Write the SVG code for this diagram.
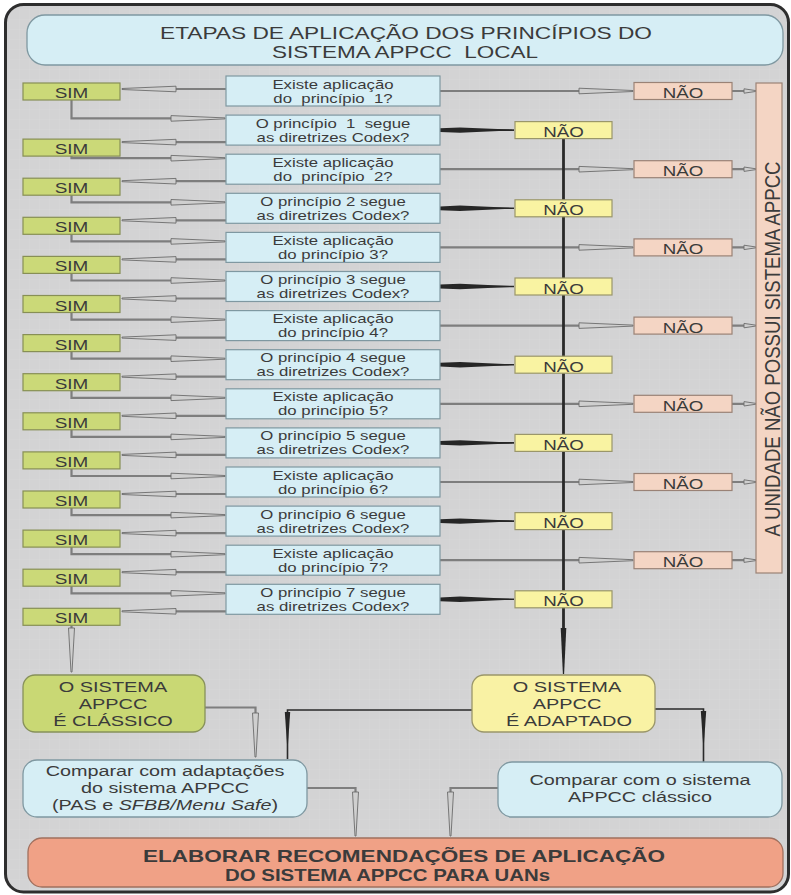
<svg xmlns="http://www.w3.org/2000/svg" width="791" height="895" viewBox="0 0 791 895">
<style>
.frame{fill:url(#grid);stroke:#2e2e2e;stroke-width:3}
.q{fill:#d6eef5;stroke:#7f98a1;stroke-width:1.2}
.sim{fill:#cbd978;stroke:#878f55;stroke-width:1.2}
.np{fill:#f4d5c4;stroke:#9a8276;stroke-width:1.2}
.ny{fill:#f9f3a2;stroke:#9a966a;stroke-width:1.2}
.tall{fill:#f4d5c4;stroke:#9a8276;stroke-width:1.2}
.cls{fill:#c9d874;stroke:#87915a;stroke-width:1.3}
.adp{fill:#f9f2a4;stroke:#9a966a;stroke-width:1.3}
.cmp{fill:#d6eef5;stroke:#7f98a1;stroke-width:1.3}
.fin{fill:#f0a186;stroke:#a0705e;stroke-width:1.3}
.t{font-family:"Liberation Sans",Arial,sans-serif;fill:#3b3b3b;text-anchor:middle}
.tq{font-size:13px}
.tl{font-size:15.5px}
.tb{font-size:15px}
.th{font-size:17px}
.tv{font-size:18.6px}
.bold{font-weight:bold}
.gs{fill:none;stroke:#7e7e7e;stroke-width:2.2}
.gh{fill:#cfcfcf;stroke:#6c6c6c;stroke-width:0.9}
.ds{fill:none;stroke:#2a2a2a;stroke-width:1.6}
.dv{fill:none;stroke:#2a2a2a;stroke-width:2.8}
.dh{fill:#262626}
</style>
<defs>
<pattern id="grid" width="10" height="10" patternUnits="userSpaceOnUse">
<rect width="10" height="10" fill="#d3d3d4"/>
<path d="M10 0V10M0 10H10" stroke="#dbdbdc" stroke-width="0.6" fill="none"/>
</pattern>
<!-- long hollow heads, tip at the origin -->
<polygon id="hR" class="gh" points="-54,-2.8 0,-0.5 0,0.5 -54,2.8"/>
<polygon id="hL" class="gh" points="54,-2.8 0,-0.5 0,0.5 54,2.8"/>
<polygon id="hD" class="gh" points="-3,-44 -0.5,0 0.5,0 3,-44"/>
<polygon id="hRs" class="gh" points="-12,-2.2 0,-0.4 0,0.4 -12,2.2"/>
<!-- dark spikes -->
<polygon id="dS" class="dh" points="0,-1.9 20,-2.7 72,-0.4 72,0.4 20,2.7 0,1.9"/>
<polygon id="dD" class="dh" points="-2.7,0 2.7,0 0.5,32 -0.5,32"/>
</defs>

<rect width="791" height="895" fill="#ffffff"/>
<rect class="frame" x="5.5" y="4.5" width="783" height="887.5" rx="18"/>

<g id="connectors">
<!-- question -> SIM -->
<path class="gs" d="M226 89H175M226 142.1H175M226 181.2H175M226 220.3H175M226 259.4H175M226 298.5H175M226 337.6H175M226 376.7H175M226 415.8H175M226 454.9H175M226 494H175M226 533.1H175M226 572.2H175M226 611.3H175"/>
<use href="#hL" x="122" y="89"/><use href="#hL" x="122" y="142.1"/><use href="#hL" x="122" y="181.2"/><use href="#hL" x="122" y="220.3"/><use href="#hL" x="122" y="259.4"/><use href="#hL" x="122" y="298.5"/><use href="#hL" x="122" y="337.6"/><use href="#hL" x="122" y="376.7"/><use href="#hL" x="122" y="415.8"/><use href="#hL" x="122" y="454.9"/><use href="#hL" x="122" y="494"/><use href="#hL" x="122" y="533.1"/><use href="#hL" x="122" y="572.2"/><use href="#hL" x="122" y="611.3"/>
<!-- SIM -> next question -->
<path class="gs" d="M71.5 100V118.4H172M71.5 156.1V158.2H172M71.5 195.2V202.3H172M71.5 234.3V241.4H172M71.5 273.4V280.5H172M71.5 312.5V319.6H172M71.5 351.6V358.7H172M71.5 390.7V397.8H172M71.5 429.8V436.9H172M71.5 468.9V476H172M71.5 508V515.1H172M71.5 547.1V554.2H172M71.5 586.2V593.3H172"/>
<use href="#hR" x="225" y="118.4"/><use href="#hR" x="225" y="158.2"/><use href="#hR" x="225" y="202.3"/><use href="#hR" x="225" y="241.4"/><use href="#hR" x="225" y="280.5"/><use href="#hR" x="225" y="319.6"/><use href="#hR" x="225" y="358.7"/><use href="#hR" x="225" y="397.8"/><use href="#hR" x="225" y="436.9"/><use href="#hR" x="225" y="476"/><use href="#hR" x="225" y="515.1"/><use href="#hR" x="225" y="554.2"/><use href="#hR" x="225" y="593.3"/>
<!-- existence questions -> NÃO -> unit without system -->
<path class="gs" d="M440 91H579M440 169.2H579M440 247.4H579M440 325.6H579M440 403.8H579M440 482H579M440 560.2H579"/>
<use href="#hR" x="633" y="91"/><use href="#hR" x="633" y="169.2"/><use href="#hR" x="633" y="247.4"/><use href="#hR" x="633" y="325.6"/><use href="#hR" x="633" y="403.8"/><use href="#hR" x="633" y="482"/><use href="#hR" x="633" y="560.2"/>
<path class="gs" d="M732 91H744M732 169.2H744M732 247.4H744M732 325.6H744M732 403.8H744M732 482H744M732 560.2H744"/>
<use href="#hRs" x="756" y="91"/><use href="#hRs" x="756" y="169.2"/><use href="#hRs" x="756" y="247.4"/><use href="#hRs" x="756" y="325.6"/><use href="#hRs" x="756" y="403.8"/><use href="#hRs" x="756" y="482"/><use href="#hRs" x="756" y="560.2"/>
<!-- Codex questions -> NÃO (dark) -->
<path class="ds" d="M440 130.1H514M440 208.3H514M440 286.5H514M440 364.7H514M440 442.9H514M440 521.1H514M440 599.3H514"/>
<use href="#dS" x="440" y="130.1"/><use href="#dS" x="440" y="208.3"/><use href="#dS" x="440" y="286.5"/><use href="#dS" x="440" y="364.7"/><use href="#dS" x="440" y="442.9"/><use href="#dS" x="440" y="521.1"/><use href="#dS" x="440" y="599.3"/>
<!-- NÃO trunk -> adapted -->
<path class="dv" d="M563.5 138.6V632"/>
<polygon class="dh" points="560.7,628 566.3,628 564.1,674 562.9,674"/>
<!-- lower flow -->
<path class="gs" d="M71.5 625.3V630"/>
<use href="#hD" x="71.5" y="672"/>
<path class="gs" d="M205 707.5H255.5V714"/>
<use href="#hD" x="255.5" y="757"/>
<path class="gs" d="M307 788H355.5V793"/>
<use href="#hD" x="355.5" y="836"/>
<path class="gs" d="M498 788H450.5V793"/>
<use href="#hD" x="450.5" y="836"/>
<path class="ds" d="M472 710H287.5V759"/>
<use href="#dD" x="287.5" y="712"/>
<path class="ds" d="M655 709H703.5V762"/>
<use href="#dD" x="703.5" y="711"/>
</g>

<g id="title">
<rect class="cmp" x="27" y="15" width="756" height="50" rx="18"/>
<text class="t th" x="160" y="39" textLength="492" lengthAdjust="spacingAndGlyphs" style="text-anchor:start">ETAPAS DE APLICAÇÃO DOS PRINCÍPIOS DO</text>
<text class="t th" x="272" y="57.5" xml:space="preserve" textLength="266" lengthAdjust="spacingAndGlyphs" style="text-anchor:start">SISTEMA APPCC  LOCAL</text>
</g>

<g id="q1"><rect class="q" x="226" y="76" width="214" height="30"/><text class="t tq" transform="translate(333 88.5) scale(1.29 1)">Existe aplicação</text><text class="t tq" xml:space="preserve" transform="translate(333 102.5) scale(1.29 1)">do  princípio  1?</text></g>
<g id="q2"><rect class="q" x="226" y="115.1" width="214" height="30"/><text class="t tq" xml:space="preserve" transform="translate(333 127.6) scale(1.29 1)">O princípio  1  segue</text><text class="t tq" transform="translate(333 141.6) scale(1.29 1)">as diretrizes Codex?</text></g>
<g id="q3"><rect class="q" x="226" y="154.2" width="214" height="30"/><text class="t tq" transform="translate(333 166.7) scale(1.29 1)">Existe aplicação</text><text class="t tq" xml:space="preserve" transform="translate(333 180.7) scale(1.29 1)">do  princípio  2?</text></g>
<g id="q4"><rect class="q" x="226" y="193.3" width="214" height="30"/><text class="t tq" transform="translate(333 205.8) scale(1.29 1)">O princípio 2 segue</text><text class="t tq" transform="translate(333 219.8) scale(1.29 1)">as diretrizes Codex?</text></g>
<g id="q5"><rect class="q" x="226" y="232.4" width="214" height="30"/><text class="t tq" transform="translate(333 244.9) scale(1.29 1)">Existe aplicação</text><text class="t tq" transform="translate(333 258.9) scale(1.29 1)">do princípio 3?</text></g>
<g id="q6"><rect class="q" x="226" y="271.5" width="214" height="30"/><text class="t tq" transform="translate(333 284) scale(1.29 1)">O princípio 3 segue</text><text class="t tq" transform="translate(333 298) scale(1.29 1)">as diretrizes Codex?</text></g>
<g id="q7"><rect class="q" x="226" y="310.6" width="214" height="30"/><text class="t tq" transform="translate(333 323.1) scale(1.29 1)">Existe aplicação</text><text class="t tq" transform="translate(333 337.1) scale(1.29 1)">do princípio 4?</text></g>
<g id="q8"><rect class="q" x="226" y="349.7" width="214" height="30"/><text class="t tq" transform="translate(333 362.2) scale(1.29 1)">O princípio 4 segue</text><text class="t tq" transform="translate(333 376.2) scale(1.29 1)">as diretrizes Codex?</text></g>
<g id="q9"><rect class="q" x="226" y="388.8" width="214" height="30"/><text class="t tq" transform="translate(333 401.3) scale(1.29 1)">Existe aplicação</text><text class="t tq" transform="translate(333 415.3) scale(1.29 1)">do princípio 5?</text></g>
<g id="q10"><rect class="q" x="226" y="427.9" width="214" height="30"/><text class="t tq" transform="translate(333 440.4) scale(1.29 1)">O princípio 5 segue</text><text class="t tq" transform="translate(333 454.4) scale(1.29 1)">as diretrizes Codex?</text></g>
<g id="q11"><rect class="q" x="226" y="467" width="214" height="30"/><text class="t tq" transform="translate(333 479.5) scale(1.29 1)">Existe aplicação</text><text class="t tq" transform="translate(333 493.5) scale(1.29 1)">do princípio 6?</text></g>
<g id="q12"><rect class="q" x="226" y="506.1" width="214" height="30"/><text class="t tq" transform="translate(333 518.6) scale(1.29 1)">O princípio 6 segue</text><text class="t tq" transform="translate(333 532.6) scale(1.29 1)">as diretrizes Codex?</text></g>
<g id="q13"><rect class="q" x="226" y="545.2" width="214" height="30"/><text class="t tq" transform="translate(333 557.7) scale(1.29 1)">Existe aplicação</text><text class="t tq" transform="translate(333 571.7) scale(1.29 1)">do princípio 7?</text></g>
<g id="q14"><rect class="q" x="226" y="584.3" width="214" height="30"/><text class="t tq" transform="translate(333 596.8) scale(1.29 1)">O princípio 7 segue</text><text class="t tq" transform="translate(333 610.8) scale(1.29 1)">as diretrizes Codex?</text></g>

<g id="sim1"><rect class="sim" x="23" y="83" width="97" height="17"/><text class="t tl" transform="translate(71.5 98) scale(1.22 1)">SIM</text></g>
<g id="sim2"><rect class="sim" x="23" y="139.1" width="97" height="17"/><text class="t tl" transform="translate(71.5 154.1) scale(1.22 1)">SIM</text></g>
<g id="sim3"><rect class="sim" x="23" y="178.2" width="97" height="17"/><text class="t tl" transform="translate(71.5 193.2) scale(1.22 1)">SIM</text></g>
<g id="sim4"><rect class="sim" x="23" y="217.3" width="97" height="17"/><text class="t tl" transform="translate(71.5 232.3) scale(1.22 1)">SIM</text></g>
<g id="sim5"><rect class="sim" x="23" y="256.4" width="97" height="17"/><text class="t tl" transform="translate(71.5 271.4) scale(1.22 1)">SIM</text></g>
<g id="sim6"><rect class="sim" x="23" y="295.5" width="97" height="17"/><text class="t tl" transform="translate(71.5 310.5) scale(1.22 1)">SIM</text></g>
<g id="sim7"><rect class="sim" x="23" y="334.6" width="97" height="17"/><text class="t tl" transform="translate(71.5 349.6) scale(1.22 1)">SIM</text></g>
<g id="sim8"><rect class="sim" x="23" y="373.7" width="97" height="17"/><text class="t tl" transform="translate(71.5 388.7) scale(1.22 1)">SIM</text></g>
<g id="sim9"><rect class="sim" x="23" y="412.8" width="97" height="17"/><text class="t tl" transform="translate(71.5 427.8) scale(1.22 1)">SIM</text></g>
<g id="sim10"><rect class="sim" x="23" y="451.9" width="97" height="17"/><text class="t tl" transform="translate(71.5 466.9) scale(1.22 1)">SIM</text></g>
<g id="sim11"><rect class="sim" x="23" y="491" width="97" height="17"/><text class="t tl" transform="translate(71.5 506) scale(1.22 1)">SIM</text></g>
<g id="sim12"><rect class="sim" x="23" y="530.1" width="97" height="17"/><text class="t tl" transform="translate(71.5 545.1) scale(1.22 1)">SIM</text></g>
<g id="sim13"><rect class="sim" x="23" y="569.2" width="97" height="17"/><text class="t tl" transform="translate(71.5 584.2) scale(1.22 1)">SIM</text></g>
<g id="sim14"><rect class="sim" x="23" y="608.3" width="97" height="17"/><text class="t tl" transform="translate(71.5 623.3) scale(1.22 1)">SIM</text></g>

<g id="nao-p1"><rect class="np" x="634" y="82.5" width="98" height="17"/><text class="t tl" transform="translate(683 98) scale(1.21 1)">NÃO</text></g>
<g id="nao-p2"><rect class="np" x="634" y="160.7" width="98" height="17"/><text class="t tl" transform="translate(683 176.2) scale(1.21 1)">NÃO</text></g>
<g id="nao-p3"><rect class="np" x="634" y="238.9" width="98" height="17"/><text class="t tl" transform="translate(683 254.4) scale(1.21 1)">NÃO</text></g>
<g id="nao-p4"><rect class="np" x="634" y="317.1" width="98" height="17"/><text class="t tl" transform="translate(683 332.6) scale(1.21 1)">NÃO</text></g>
<g id="nao-p5"><rect class="np" x="634" y="395.3" width="98" height="17"/><text class="t tl" transform="translate(683 410.8) scale(1.21 1)">NÃO</text></g>
<g id="nao-p6"><rect class="np" x="634" y="473.5" width="98" height="17"/><text class="t tl" transform="translate(683 489) scale(1.21 1)">NÃO</text></g>
<g id="nao-p7"><rect class="np" x="634" y="551.7" width="98" height="17"/><text class="t tl" transform="translate(683 567.2) scale(1.21 1)">NÃO</text></g>

<g id="nao-c1"><rect class="ny" x="515" y="121.6" width="97" height="17"/><text class="t tl" transform="translate(563.5 137.1) scale(1.21 1)">NÃO</text></g>
<g id="nao-c2"><rect class="ny" x="515" y="199.8" width="97" height="17"/><text class="t tl" transform="translate(563.5 215.3) scale(1.21 1)">NÃO</text></g>
<g id="nao-c3"><rect class="ny" x="515" y="278" width="97" height="17"/><text class="t tl" transform="translate(563.5 293.5) scale(1.21 1)">NÃO</text></g>
<g id="nao-c4"><rect class="ny" x="515" y="356.2" width="97" height="17"/><text class="t tl" transform="translate(563.5 371.7) scale(1.21 1)">NÃO</text></g>
<g id="nao-c5"><rect class="ny" x="515" y="434.4" width="97" height="17"/><text class="t tl" transform="translate(563.5 449.9) scale(1.21 1)">NÃO</text></g>
<g id="nao-c6"><rect class="ny" x="515" y="512.6" width="97" height="17"/><text class="t tl" transform="translate(563.5 528.1) scale(1.21 1)">NÃO</text></g>
<g id="nao-c7"><rect class="ny" x="515" y="590.8" width="97" height="17"/><text class="t tl" transform="translate(563.5 606.3) scale(1.21 1)">NÃO</text></g>

<g id="sem-sistema">
<rect class="tall" x="756" y="83" width="26" height="490"/>
<text class="t tv" transform="translate(769 349) scale(1.2 1) rotate(-90)" y="8.8">A UNIDADE NÃO POSSUI SISTEMA APPCC</text>
</g>

<g id="classico">
<rect class="cls" x="23" y="675" width="182" height="57" rx="12"/>
<text class="t tb" transform="translate(113 692) scale(1.33 1)">O SISTEMA</text>
<text class="t tb" transform="translate(113 709) scale(1.33 1)">APPCC</text>
<text class="t tb" transform="translate(113 726) scale(1.33 1)">É CLÁSSICO</text>
</g>

<g id="adaptado">
<rect class="adp" x="472" y="675" width="183" height="57" rx="12"/>
<text class="t tb" transform="translate(567 692) scale(1.33 1)">O SISTEMA</text>
<text class="t tb" transform="translate(567 709) scale(1.33 1)">APPCC</text>
<text class="t tb" transform="translate(569 726) scale(1.33 1)">É ADAPTADO</text>
</g>

<g id="comparar-adaptacoes">
<rect class="cmp" x="23" y="760" width="284" height="57" rx="14"/>
<text class="t tb" transform="translate(165 776) scale(1.32 1)">Comparar com adaptações</text>
<text class="t tb" transform="translate(165 793) scale(1.32 1)">do sistema APPCC</text>
<text class="t tb" transform="translate(165 810) scale(1.32 1)">(PAS e <tspan font-style="italic">SFBB/Menu Safe</tspan>)</text>
</g>

<g id="comparar-classico">
<rect class="cmp" x="498" y="762" width="284" height="55" rx="14"/>
<text class="t tb" transform="translate(640 785) scale(1.32 1)">Comparar com o sistema</text>
<text class="t tb" transform="translate(640 802) scale(1.32 1)">APPCC clássico</text>
</g>

<g id="recomendacoes">
<rect class="fin" x="28" y="838" width="755" height="49" rx="14"/>
<text class="t th bold" x="143" y="862" textLength="522" lengthAdjust="spacingAndGlyphs" style="text-anchor:start">ELABORAR RECOMENDAÇÕES DE APLICAÇÃO</text>
<text class="t th bold" x="225" y="881" textLength="325" lengthAdjust="spacingAndGlyphs" style="text-anchor:start">DO SISTEMA APPCC PARA UANs</text>
</g>
</svg>
